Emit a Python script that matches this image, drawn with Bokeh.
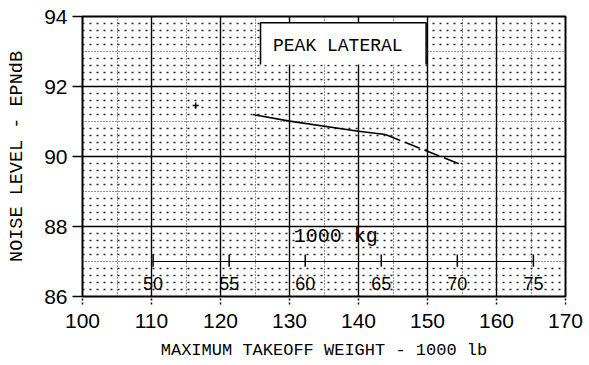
import numpy as np
from bokeh.plotting import figure
from bokeh.models import FixedTicker, Label, BoxAnnotation, ColumnDataSource
from bokeh.core.properties import value
from bokeh.embed import file_html
from bokeh.resources import INLINE

# ---- data ----
x_ticks = [100, 110, 120, 130, 140, 150, 160, 170]
x_minor = [105, 115, 125, 135, 145, 155, 165]
y_ticks = [86, 88, 90, 92, 94]
y_minor = [87, 89, 91, 93]
weight_solid = [124.7, 130.0, 140.0, 143.9]
noise_solid = [91.20, 91.01, 90.72, 90.63]
weight_dashed = [143.9, 154.8]
noise_dashed = [90.63, 89.77]
stray_x = [116.4]
stray_y = [91.46]
kg_ticks = [50, 55, 60, 65, 70, 75]
kg_labels = ["50", "55", "60", "65", "70", "75"]
LB_PER_KG = 2.20462
title_text = "PEAK LATERAL"

MONO = "Liberation Mono"
SANS = "Liberation Sans"

p = figure(width=585, height=362, x_range=(100, 170), y_range=(86, 94),
           output_backend="svg", toolbar_location=None,
           min_border_left=82, min_border_right=20, min_border_top=16, min_border_bottom=65)
p.background_fill_color = "white"
p.border_fill_color = "white"
p.outline_line_color = "black"
p.outline_line_width = 2

# major + medium grid
p.xaxis.ticker = FixedTicker(ticks=x_ticks, minor_ticks=x_minor)
p.yaxis.ticker = FixedTicker(ticks=y_ticks, minor_ticks=y_minor)
p.xgrid.ticker = FixedTicker(ticks=x_ticks, minor_ticks=x_minor)
p.ygrid.ticker = FixedTicker(ticks=y_ticks, minor_ticks=y_minor)
for g in (p.xgrid[0], p.ygrid[0]):
    g.grid_line_color = "black"
    g.grid_line_width = 1.4
    g.grid_line_alpha = 1
    g.minor_grid_line_color = "#222222"
    g.minor_grid_line_dash = "1 2"
    g.minor_grid_line_width = 1
    g.minor_grid_line_alpha = 1

# fine dot-matrix rows (drawn as dotted spans)
fine_rows = [v for v in np.round(np.arange(86.2, 94.0, 0.2), 2) if abs(v - round(v)) > 1e-6]
p.hspan(y=fine_rows, line_color="#222222", line_dash="2 5", line_width=1.5)

# axes
p.xaxis.axis_line_color = None
p.yaxis.axis_line_color = None
p.xaxis.major_tick_out = 8
p.xaxis.major_tick_in = 0
p.xaxis.major_tick_line_dash = "2 2"
p.xaxis.major_tick_line_width = 1.5
p.yaxis.major_tick_out = 10
p.yaxis.major_tick_in = 0
p.yaxis.major_tick_line_width = 1.4
p.xaxis.minor_tick_line_color = None
p.yaxis.minor_tick_line_color = None
for ax in (p.xaxis[0], p.yaxis[0]):
    ax.major_label_text_font = SANS
    ax.major_label_text_font_size = "21px"
    ax.major_label_text_color = "black"
    ax.axis_label_text_font = MONO
    ax.axis_label_text_font_style = "normal"
    ax.axis_label_text_color = "black"
p.xaxis.major_label_standoff = 9
p.yaxis.major_label_standoff = 5
p.xaxis.axis_label = "MAXIMUM TAKEOFF WEIGHT - 1000 lb"
p.yaxis.axis_label = "NOISE LEVEL - EPNdB"
p.xaxis.axis_label_text_font_size = "17px"
p.yaxis.axis_label_text_font_size = "18.5px"
p.xaxis.axis_label_standoff = 10
p.yaxis.axis_label_standoff = 13

# curve
p.line(weight_solid, noise_solid, line_color="black", line_width=1.6)
p.line(weight_dashed, noise_dashed, line_color="black", line_width=1.6, line_dash="16 5")
p.scatter(stray_x, stray_y, marker="cross", size=6, line_color="black", line_width=1.5)

# kg secondary scale drawn inside plot
kg_lb = [k * LB_PER_KG for k in kg_ticks]
p.line([kg_lb[0], kg_lb[-1]], [87.0, 87.0], line_color="black", line_width=1.2)
p.segment(x0=kg_lb, y0=[86.85] * len(kg_lb), x1=kg_lb, y1=[87.2] * len(kg_lb),
          line_color="black", line_width=1.5)
src = ColumnDataSource(dict(x=kg_lb, y=[86.37] * len(kg_lb), t=kg_labels))
p.text(x="x", y="y", text="t", source=src, text_font=value(SANS), text_font_size="18px",
       text_align="center", text_baseline="middle", text_color="black")
p.text(x=[130.6], y=[87.72], text=["1000 kg"], text_font=value(MONO), text_font_size="20px",
       text_align="left", text_baseline="middle", text_color="black")

# PEAK LATERAL box
bx0, bx1, by0, by1 = 125.8, 149.8, 92.63, 93.82
p.add_layout(BoxAnnotation(left=bx0, right=bx1, bottom=by0, top=by1,
                           fill_color="white", fill_alpha=1, line_alpha=0))
p.line([bx0, bx0, bx1, bx1], [by0, by1, by1, by0], line_color="black", line_width=1.5, level="overlay")
p.add_layout(Label(x=137.0, y=93.16, text=title_text, text_font=MONO, text_font_size="18px",
                   text_align="center", text_baseline="middle", text_color="black"))

open("out.html", "w").write(file_html(p, INLINE))
